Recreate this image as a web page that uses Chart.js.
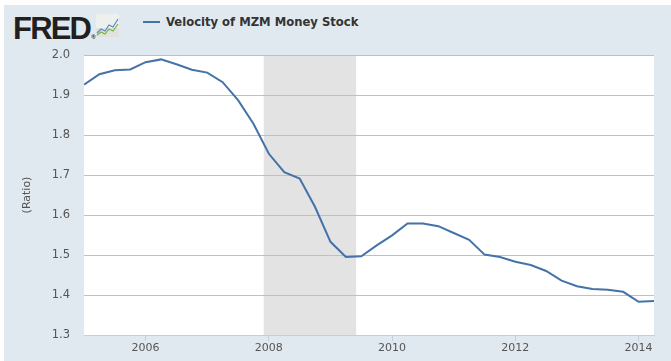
<!DOCTYPE html>
<html>
<head>
<meta charset="utf-8">
<script src="https://cdn.jsdelivr.net/npm/chart.js@4/dist/chart.umd.min.js"></script>
<style>
  html, body { margin:0; padding:0; background:#fff; }
  #wrap { position:relative; width:671px; height:361px; overflow:hidden; }
  #bg { position:absolute; left:4px; top:5px; right:0; bottom:0; background:#e1e9f0; }
  #logo { position:absolute; left:13px; top:11px; font:bold 31px "Liberation Sans", Arial, sans-serif; color:#231f20; letter-spacing:-1.8px; }
  #logo sup { font-size:6px; letter-spacing:0; vertical-align:baseline; position:relative; left:1px; }
  #icon { position:absolute; left:96px; top:14px; }
  #legend { position:absolute; left:143px; top:15px; font:bold 11.6px "DejaVu Sans", Verdana, sans-serif; color:#333; white-space:nowrap; }
  #legend i { display:inline-block; width:17px; height:2px; background:#4572a7; vertical-align:middle; margin-right:6px; position:relative; top:-1px; }
  canvas { position:absolute; left:0; top:0; }
</style>
</head>
<body>
<div id="wrap">
  <div id="bg"></div>
  <div id="logo">FRED<sup>®</sup></div>
  <svg id="icon" width="23" height="23" viewBox="0 0 23 23">
    <rect x="0" y="0" width="23" height="23" fill="#eef0ee"/>
    <rect x="0" y="14" width="23" height="9" fill="#dfe3dc"/>
    <polyline points="1,19 5,15 9,17 13,11 17,13 22,5" fill="none" stroke="#5b89c4" stroke-width="1.2"/>
    <polyline points="1,21 5,18 9,20 13,15 17,17 22,10" fill="none" stroke="#79b04a" stroke-width="1.2"/>
  </svg>
  <div id="legend"><i></i>Velocity of MZM Money Stock</div>
  <canvas id="c" width="671" height="361"></canvas>
</div>
<script>
// Velocity of MZM Money Stock, quarterly (ratio)
const dates = [
  '2005-01-01','2005-04-01','2005-07-01','2005-10-01',
  '2006-01-01','2006-04-01','2006-07-01','2006-10-01',
  '2007-01-01','2007-04-01','2007-07-01','2007-10-01',
  '2008-01-01','2008-04-01','2008-07-01','2008-10-01',
  '2009-01-01','2009-04-01','2009-07-01','2009-10-01',
  '2010-01-01','2010-04-01','2010-07-01','2010-10-01',
  '2011-01-01','2011-04-01','2011-07-01','2011-10-01',
  '2012-01-01','2012-04-01','2012-07-01','2012-10-01',
  '2013-01-01','2013-04-01','2013-07-01','2013-10-01',
  '2014-01-01','2014-04-01'
];
const velocity = [
  1.926, 1.952, 1.962, 1.964,
  1.982, 1.989, 1.977, 1.963,
  1.956, 1.932, 1.887, 1.828,
  1.753, 1.707, 1.691, 1.620,
  1.533, 1.495, 1.497, 1.524,
  1.549, 1.579, 1.579, 1.572,
  1.555, 1.538, 1.501, 1.495,
  1.483, 1.475, 1.460, 1.436,
  1.422, 1.415, 1.413, 1.408,
  1.383, 1.385
];
const yearTicks = [2006, 2008, 2010, 2012, 2014];
const ratioTicks = [1.3, 1.4, 1.5, 1.6, 1.7, 1.8, 1.9, 2.0];
const recession = ['2007-12-01', '2009-06-01'];

function toYear(d){
  const p = d.split('-');
  return +p[0] + (+p[1] - 1) / 12;
}

const points = dates.map((d, i) => ({ x: toYear(d), y: velocity[i] }));

const backdrop = {
  id: 'backdrop',
  beforeDraw(chart){
    const { ctx, chartArea: a, scales: { x } } = chart;
    ctx.save();
    ctx.fillStyle = '#fff';
    ctx.fillRect(a.left, a.top, a.right - a.left, a.bottom - a.top);
    const x0 = x.getPixelForValue(toYear(recession[0]));
    const x1 = x.getPixelForValue(toYear(recession[1]));
    ctx.fillStyle = '#e3e3e3';
    ctx.fillRect(x0, a.top, x1 - x0, a.bottom - a.top);
    ctx.restore();
  }
};

new Chart(document.getElementById('c'), {
  type: 'line',
  data: { datasets: [{
    data: points,
    borderColor: '#4572a7',
    borderWidth: 2,
    pointRadius: 0,
    tension: 0,
    fill: false
  }]},
  options: {
    responsive: false,
    animation: false,
    layout: { padding: { left: 0, right: 17, top: 55, bottom: 4 } },
    plugins: { legend: { display: false }, tooltip: { enabled: false } },
    scales: {
      x: {
        type: 'linear',
        min: toYear(dates[0]),
        max: toYear(dates[dates.length - 1]),
        afterBuildTicks: s => { s.ticks = yearTicks.map(v => ({ value: v })); },
        afterFit: s => { s.height = 22; },
        grid: { drawOnChartArea: false, drawTicks: true, tickLength: 6, color: '#c0d0e0' },
        border: { color: '#c0d0e0', width: 1 },
        ticks: { padding: 1, color: '#555', font: { family: 'DejaVu Sans', size: 11 }, callback: v => String(v), maxRotation: 0 }
      },
      y: {
        min: 1.3,
        max: 2.0,
        afterBuildTicks: s => { s.ticks = ratioTicks.map(v => ({ value: v })); },
        afterFit: s => { s.width = 84; },
        grid: { color: '#c0c0c0', drawTicks: false, lineWidth: 1 },
        border: { display: false },
        ticks: { padding: 14, color: '#555', font: { family: 'DejaVu Sans', size: 11.5 }, callback: v => v.toFixed(1) },
        title: { display: true, text: '(Ratio)', color: '#555', font: { family: 'DejaVu Sans', size: 11 }, padding: { top: 21, bottom: 0 } }
      }
    }
  },
  plugins: [backdrop]
});
</script>
</body>
</html>
